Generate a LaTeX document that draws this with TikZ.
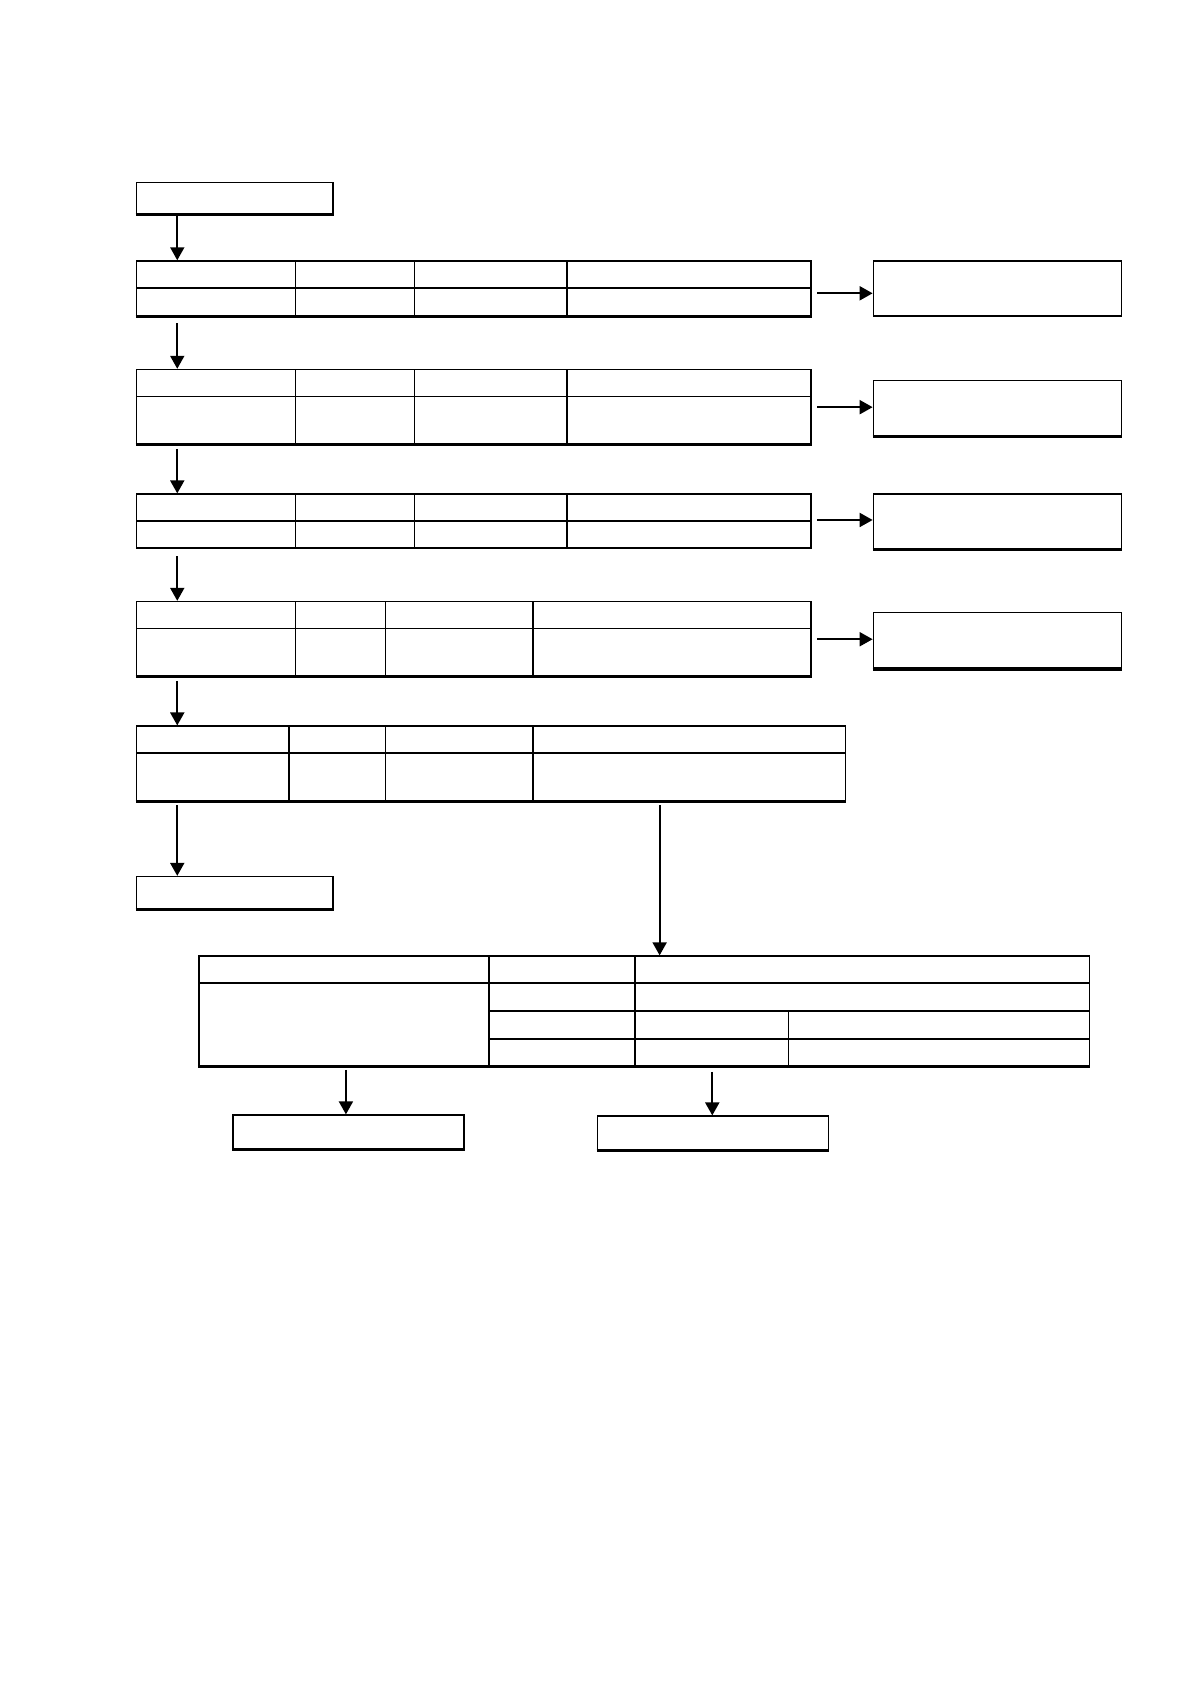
\documentclass[tikz,border=0pt]{standalone}
\usepackage{tikz}
\usetikzlibrary{arrows.meta,fit,calc}

\begin{document}
\begin{tikzpicture}[x=0.018943cm, y=-0.018943cm, line width=0.8pt,
		>={Triangle[length=6.5pt,width=7pt]}]

		%用紙の大きさ
		\useasboundingbox (0,0) rectangle (1108.6,1567.5);
		\tikzset {
			styleBox/.style= {
				draw, inner sep=0pt, fit={#1}
			},		%枠は座標の組に合わせる
			styleArrow/.style= { ->, line width=1pt },
			styleBottom/.style= { line width=1.5pt }
		};
		\coordinate (ax) at (165,0); %左の矢印の位置

		%最初と最後の枠
		\node [styleBox={(127,170)(310,199)}] (start) {};
		\node [styleBox={(127,816)(310,846)}] (end) {};

		%ループで表を書く
		\foreach 
			\tabName/\yTop/\ySplit/\yBottom/\xRight/\colA/\colB/\colC in { 
				t1/243/268/294/755/275/386/528,
				t2/344/369/413/755/275/386/528,
				t3/460/485/510/755/275/386/528,
				t4/560/585/629/755/275/359/496,
				t5/676/701/745/787/269/359/496 } {
			\node [styleBox={(127,\yTop)(\xRight,\yBottom)}] (\tabName) {};
			\draw (127,\ySplit) -- (\xRight,\ySplit);
			\foreach \col in {\colA,\colB,\colC} {
				\draw (\col,\yTop) -- (\col,\yBottom);
			}
		}

		%右の枠と横の矢印
		\foreach 
			\boxName/\tabName/\yTop/\yBottom/\yArrow in { 
				r1/t1/243/294/273, r2/t2/354/406/379,
				r3/t3/460/511/484, r4/t4/570/622/595 } {
			\node [styleBox={(813,\yTop)(1044,\yBottom)}] (\boxName) {};
			\draw [styleArrow] ($(\tabName.east |- 0,\yArrow)+(5,0)$)
				-- (\boxName.west |- 0,\yArrow);
		}

		%下の表
		\node [styleBox={(185,890)(1014,992)}] (bt) {};
		\draw (185,915) -- (1014,915);
		\foreach \yRow in {941,967} {
			\draw (455,\yRow) -- (1014,\yRow);
		}
		\draw (455,890) -- (455,992);
		\draw (591,890) -- (591,992);
		\draw (734,941) -- (734,992);

		%下の枠
		\node [styleBox={(217,1038)(432,1069)}] (b1) {};
		\node [styleBox={(556,1039)(771,1070)}] (b2) {};

		%縦の矢印
		\draw [styleArrow] (start.south -| ax) -- (t1.north -| ax);
		\foreach \startName/\endName/\gap in 
			{t1/t2/6, t2/t3/4, t3/t4/7, t4/t5/4, t5/end/4} {
			\draw [styleArrow] ($(\startName.south -| ax)+(0,\gap)$)
				-- (\endName.north -| ax);
		}
		\draw [styleArrow] ($(t5.south -| 614,0)+(0,4)$) -- (bt.north -| 614,0);
		\draw [styleArrow] ($(bt.south -| 322,0)+(0,3)$) -- (b1.north -| 322,0);
		\draw [styleArrow] ($(bt.south -| 663,0)+(0,5)$) -- (b2.north -| 663,0);

		%下の辺を太く
		\foreach \nodeName in {start,end,t1,t2,t4,t5,r2,r3,r4,bt,b1,b2} {
			\draw [styleBottom] (\nodeName.south west) -- (\nodeName.south east);
		}

	\end{tikzpicture}
\end{document}
